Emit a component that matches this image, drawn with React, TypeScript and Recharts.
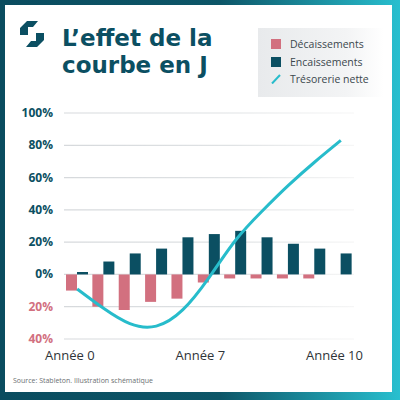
import React from "react";
import { ComposedChart, Bar, Line, XAxis, YAxis, CartesianGrid } from "recharts";

const years = ["0", "1", "2", "3", "4", "5", "6", "7", "8", "9", "10"];
const decaissements = [-10, -20, -22, -17, -15, -5, -2.5, -2.5, -2.5, -2.5, null];
const encaissements = [1.5, 8, 13, 16, 23, 25, 27, 23, 19, 16, 13];
const tresorerie = [-9, -21, -30.5, -32, -22, -2, 21, 39, 55, 69.5, 83];
const yTicks = [-40, -20, 0, 20, 40, 60, 80, 100];
const xLabels = ["Année 0", "Année 7", "Année 10"];
const titleLines = ["L’effet de la", "courbe en J"];

const PINK = "#d2707f";
const DARK = "#0b4f62";
const CYAN = "#27bccb";
const FONT = "'Open Sans', sans-serif";

const legendItems = [
  { name: "Décaissements", color: PINK, kind: "square" },
  { name: "Encaissements", color: DARK, kind: "square" },
  { name: "Trésorerie nette", color: CYAN, kind: "line" },
];

const data = years.map((year, i) => ({
  year,
  decaissements: decaissements[i],
  encaissements: encaissements[i],
  tresorerie: tresorerie[i],
}));

function YTick(props: any) {
  const { x, y, payload } = props;
  const v = payload.value as number;
  return (
    <text
      x={x}
      y={y}
      dy={4}
      textAnchor="end"
      fontFamily={FONT}
      fontWeight={700}
      fontSize={12}
      fill={v < 0 ? PINK : DARK}
    >
      {Math.abs(v)}%
    </text>
  );
}

function Logo() {
  return (
    <svg width={24} height={26} viewBox="0 0 24 26" style={{ position: "absolute", left: 20, top: 21 }}>
      <polygon points="7,0 18,0 13,6 8,6 8,14 0,14 0,7" fill={DARK} />
      <polygon points="17,26 6,26 11,20 16,20 16,12 24,12 24,19" fill={DARK} />
    </svg>
  );
}

export default function App() {
  return (
    <div
      style={{
        position: "fixed",
        left: 0,
        top: 0,
        width: 400,
        height: 400,
        background: "linear-gradient(90deg, #0a4c5f 0%, #0d5668 55%, #28bfcf 100%)",
        fontFamily: FONT,
      }}
    >
      <div style={{ position: "absolute", left: 5, top: 5, right: 8, bottom: 8, background: "#fff" }} />
      <Logo />
      {titleLines.map((t, i) => (
        <div
          key={t}
          style={{
            position: "absolute",
            left: 62,
            top: 25 + i * 27,
            fontFamily: "'DejaVu Sans', sans-serif",
            fontSize: 23,
            lineHeight: "27px",
            fontWeight: 700,
            color: DARK,
            whiteSpace: "nowrap",
          }}
        >
          {t}
        </div>
      ))}

      <div
        style={{
          position: "absolute",
          left: 258,
          top: 28,
          width: 126,
          height: 69,
          background: "linear-gradient(90deg, #e8eaec 0%, #f3f4f5 70%, #ffffff 100%)",
        }}
      >
        {legendItems.map((item, i) => (
          <div
            key={item.name}
            style={{
              position: "absolute",
              left: 13,
              top: 9 + i * 17.5,
              display: "flex",
              alignItems: "center",
              fontSize: 10.5,
              color: "#3b474d",
              whiteSpace: "nowrap",
            }}
          >
            {item.kind === "square" ? (
              <span style={{ display: "inline-block", width: 10, height: 10, background: item.color }} />
            ) : (
              <svg width={10} height={10}>
                <line x1={1} y1={9.5} x2={9} y2={1} stroke={item.color} strokeWidth={2} />
              </svg>
            )}
            <span style={{ marginLeft: 9 }}>{item.name}</span>
          </div>
        ))}
      </div>

      <div style={{ position: "absolute", left: 0, top: 0 }}>
        <ComposedChart
          width={400}
          height={400}
          data={data}
          margin={{ top: 113, right: 46, bottom: 61, left: 0 }}
          barGap={0}
          barCategoryGap={2}
        >
          <defs>
            <linearGradient id="gridFade" gradientUnits="userSpaceOnUse" x1={64} y1={0} x2={360} y2={0}>
              <stop offset="0%" stopColor="#d6d9dc" />
              <stop offset="55%" stopColor="#dfe2e4" />
              <stop offset="100%" stopColor="#f7f7f7" />
            </linearGradient>
          </defs>
          <CartesianGrid vertical={false} stroke="url(#gridFade)" strokeWidth={1.2} />
          <XAxis dataKey="year" hide />
          <YAxis
            domain={[-40, 100]}
            ticks={yTicks}
            axisLine={false}
            tickLine={false}
            tickSize={0}
            tickMargin={11}
            width={64}
            tick={<YTick />}
          />
          <Bar dataKey="decaissements" fill={PINK} isAnimationActive={false} />
          <Bar dataKey="encaissements" fill={DARK} isAnimationActive={false} />
          <Line
            type="natural"
            dataKey="tresorerie"
            stroke={CYAN}
            strokeWidth={3}
            dot={false}
            isAnimationActive={false}
          />
        </ComposedChart>
      </div>

      <div
        style={{
          position: "absolute",
          left: 45,
          width: 318,
          top: 346,
          display: "flex",
          justifyContent: "space-between",
          fontSize: 13,
          fontWeight: 500,
          color: "#2f3438",
        }}
      >
        {xLabels.map((l) => (
          <span key={l}>{l}</span>
        ))}
      </div>

      <div style={{ position: "absolute", left: 13, top: 376, fontSize: 7, color: "#6b6f72" }}>
        Source: Stableton. Illustration schématique
      </div>
    </div>
  );
}
